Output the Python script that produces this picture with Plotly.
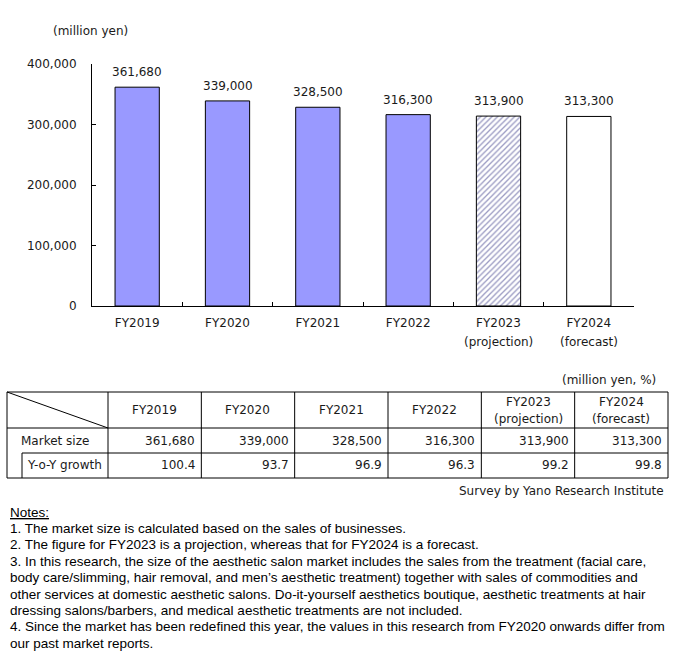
import plotly.graph_objects as go

W, H = 681, 665

# ---- data ----
years = ["FY2019", "FY2020", "FY2021", "FY2022", "FY2023", "FY2024"]
sub_labels = ["", "", "", "", "(projection)", "(forecast)"]
market_size = [361680, 339000, 328500, 316300, 313900, 313300]
yoy_growth = [100.4, 93.7, 96.9, 96.3, 99.2, 99.8]
y_ticks = [0, 100000, 200000, 300000, 400000]
y_tick_text = ["0", "100,000", "200,000", "300,000", "400,000"]
row_labels = ["Market size", "Y-o-Y growth"]
unit_chart = "(million yen)"
unit_table = "(million yen, %)"
source = "Survey by Yano Research Institute"
notes = [
    "<u>Notes:</u>",
    "1. The market size is calculated based on the sales of businesses.",
    "2. The figure for FY2023 is a projection, whereas that for FY2024 is a forecast.",
    "3. In this research, the size of the aesthetic salon market includes the sales from the treatment (facial care,",
    "body care/slimming, hair removal, and men\u2019s aesthetic treatment) together with sales of commodities and",
    "other services at domestic aesthetic salons. Do-it-yourself aesthetics boutique, aesthetic treatments at hair",
    "dressing salons/barbers, and medical aesthetic treatments are not included.",
    "4. Since the market has been redefined this year, the values in this research from FY2020 onwards differ from",
    "our past market reports.",
]

# ---- style ----
FONT = "DejaVu Sans"
NOTE_FONT = "Liberation Sans"
TXT = "#1a1a1a"
bar_colors = ["#9999FF", "#9999FF", "#9999FF", "#9999FF", "#9a9ac2", "#FFFFFF"]
pattern_shapes = ["", "", "", "", "/", ""]


def px(x):
    return x / W


def py(y):
    return 1 - y / H


def ann(x, y, text, xanchor="center", yanchor="middle", family=FONT, size=12, color=TXT):
    return dict(x=px(x), y=py(y), xref="paper", yref="paper", text=text, showarrow=False,
                xanchor=xanchor, yanchor=yanchor, font=dict(family=family, size=size, color=color))


fig = go.Figure(
    go.Bar(
        x=years,
        y=market_size,
        width=0.49,
        marker=dict(
            color=bar_colors,
            line=dict(color="black", width=1),
            pattern=dict(shape=pattern_shapes, bgcolor="white", size=4, solidity=0.33, fillmode="replace"),
        ),
        hoverinfo="skip",
        showlegend=False,
    )
)

annotations = []
# value labels above bars
for yr, v in zip(years, market_size):
    annotations.append(dict(x=yr, y=v, xref="x", yref="y", text=f"{v:,}", showarrow=False,
                            xanchor="center", yanchor="bottom", yshift=6,
                            font=dict(family=FONT, size=12, color=TXT)))
# second line of category labels
for yr, s in zip(years, sub_labels):
    if s:
        annotations.append(dict(x=yr, y=py(342), xref="x", yref="paper", text=s, showarrow=False,
                                xanchor="center", yanchor="middle", font=dict(family=FONT, size=12, color=TXT)))

annotations.append(ann(90, 31, unit_chart))
annotations.append(ann(658, 380, unit_table, xanchor="right"))
annotations.append(ann(666, 491, source, xanchor="right"))

# ---- table ----
T_L, T_R, T_T, T_B = 7, 668, 392, 478
ROW1, ROW2 = 428, 453
C0 = 108
cw = (T_R - C0) / len(years)
col_edges = [C0 + cw * i for i in range(len(years) + 1)]
shapes = []


def line(x0, y0, x1, y1, color="black"):
    shapes.append(dict(type="line", xref="paper", yref="paper", x0=px(x0), y0=py(y0), x1=px(x1), y1=py(y1),
                       line=dict(color=color, width=1)))


shapes.append(dict(type="rect", xref="paper", yref="paper", x0=px(T_L), y0=py(T_T), x1=px(T_R), y1=py(T_B),
                   line=dict(color="black", width=1)))
line(T_L, ROW1, T_R, ROW1)
line(22, ROW2, T_R, ROW2)
line(22, ROW2, 22, T_B)
for e in col_edges[:-1]:
    line(e, T_T, e, T_B)
line(T_L, T_T, C0, ROW1)

for i, (yr, s) in enumerate(zip(years, sub_labels)):
    cx = (col_edges[i] + col_edges[i + 1]) / 2
    if s:
        annotations.append(ann(cx, 402, yr))
        annotations.append(ann(cx, 419, s))
    else:
        annotations.append(ann(cx, 410, yr))
    annotations.append(ann(col_edges[i + 1] - 4, 440.5, f"{market_size[i]:,}", xanchor="right"))
    annotations.append(ann(col_edges[i + 1] - 4, 465.5, f"{yoy_growth[i]:.1f}", xanchor="right"))

annotations.append(ann(19, 440.5, row_labels[0], xanchor="left"))
annotations.append(ann(25, 465.5, row_labels[1], xanchor="left"))

# ---- notes ----
for i, t in enumerate(notes):
    annotations.append(ann(8, 512 + 16.4 * i, t, xanchor="left", family=NOTE_FONT, size=13.5, color="#000000"))

fig.update_layout(
    width=W,
    height=H,
    margin=dict(l=0, r=0, t=0, b=0, autoexpand=False),
    paper_bgcolor="white",
    plot_bgcolor="white",
    xaxis=dict(
        domain=[px(92), px(634)],
        type="category",
        range=[-0.5, 5.5],
        showline=True,
        linecolor="black",
        linewidth=1,
        ticks="inside",
        tickson="boundaries",
        ticklen=4,
        tickcolor="black",
        showgrid=False,
        tickfont=dict(family=FONT, size=12, color=TXT),
        ticklabelstandoff=6,
        automargin=False,
        fixedrange=True,
    ),
    yaxis=dict(
        domain=[py(306), py(64)],
        range=[0, 400000],
        tickvals=y_ticks,
        ticktext=y_tick_text,
        showline=True,
        linecolor="black",
        linewidth=1,
        ticks="inside",
        ticklen=4,
        tickcolor="black",
        showgrid=False,
        zeroline=False,
        tickfont=dict(family=FONT, size=12, color=TXT),
        ticklabelstandoff=12,
        automargin=False,
        fixedrange=True,
    ),
    annotations=annotations,
    shapes=shapes,
)

fig.write_html("out.html", config={"displayModeBar": False},
               post_script="document.body.style.margin='0';document.body.style.overflow='hidden';")
